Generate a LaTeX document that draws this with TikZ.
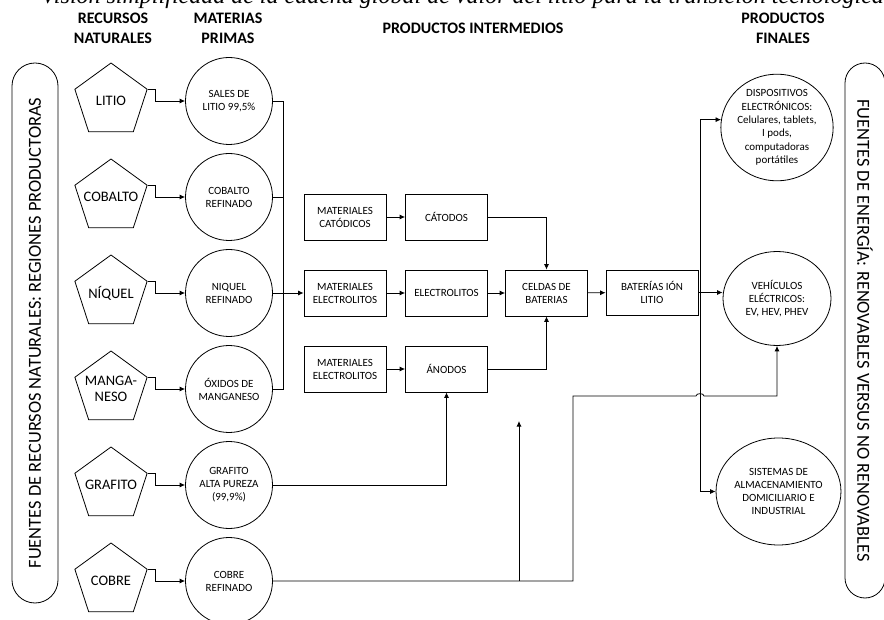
\documentclass[tikz,border=0pt]{standalone}
\usepackage{fontspec}
\setmainfont{Carlito}
\newfontfamily\titlefont{Liberation Serif}
\usetikzlibrary{arrows.meta,shapes.geometric}

\tikzset{
  recurso/.style={regular polygon, regular polygon sides=5, draw, minimum size=76pt, inner sep=0pt, align=center, font=\fontsize{14.5}{16}\selectfont},
  materia/.style={circle, draw, minimum size=87pt, inner sep=0pt, align=center, font=\fontsize{11}{13}\selectfont},
  caja/.style={rectangle, draw, minimum width=82pt, minimum height=46pt, inner sep=2pt, align=center, font=\fontsize{11}{13}\selectfont},
  producto/.style={ellipse, draw, inner sep=0pt, align=center, font=\fontsize{11}{13.3}\selectfont},
  encabezado/.style={align=center, inner sep=0pt, font=\bfseries\fontsize{16}{20}\selectfont},
  lateral/.style={draw, rounded corners=23pt, minimum height=46pt, inner sep=0pt, font=\fontsize{18.4}{20}\selectfont}
}

\begin{document}
\begin{tikzpicture}[x=1pt,y=-1pt,line width=0.8pt,>={Latex[length=5.5pt,width=5pt]}]
    \useasboundingbox (0,0) rectangle (884,620);
    \clip (0,0) rectangle (884,620);

    \node[anchor=base,inner sep=0pt,font=\titlefont\itshape\fontsize{24}{28}\selectfont] (titulo) at (462.5,4) {Visión simplificada de la cadena global de valor del litio para la transición tecnológica};

    \node[encabezado] (hrec) at (113,28.3) {RECURSOS\\NATURALES};
    \node[encabezado] (hmat) at (228,28.3) {MATERIAS\\PRIMAS};
    \node[encabezado] (hint) at (473,28) {PRODUCTOS INTERMEDIOS};
    \node[encabezado] (hfin) at (783,28.3) {PRODUCTOS\\FINALES};

    \node[lateral, rotate=90, minimum width=540pt] (fuentesrec) at (35,333) {FUENTES DE RECURSOS NATURALES: REGIONES PRODUCTORAS};
    \node[lateral, rotate=-90, minimum width=535pt, minimum height=40pt, rounded corners=20pt] (fuentesen) at (865,330.5) {FUENTES DE ENERGÍA: RENOVABLES VERSUS NO RENOVABLES};

    \node[recurso] (litio) at (111,101) {\makebox[0pt]{LITIO}};
    \node[recurso] (cobalto) at (111,197) {\makebox[0pt]{COBALTO}};
    \node[recurso] (niquel) at (111,293) {\makebox[0pt]{NÍQUEL}};
    \node[recurso] (mangan) at (111,389) {\makebox[0pt]{MANGA-}\\\makebox[0pt]{NESO}};
    \node[recurso] (grafito) at (111,485) {\makebox[0pt]{GRAFITO}};
    \node[recurso] (cobre) at (111,581) {\makebox[0pt]{COBRE}};

    \node[materia] (mlitio) at (229,101) {SALES DE\\LITIO 99,5\%};
    \node[materia] (mcobalto) at (229,197) {COBALTO\\REFINADO};
    \node[materia] (mniquel) at (229,293) {NIQUEL\\REFINADO};
    \node[materia] (mmangan) at (229,389) {ÓXIDOS DE\\MANGANESO};
    \node[materia] (mgrafito) at (229,485) {GRAFITO\\ALTA PUREZA\\(99,9\%)};
    \node[materia] (mcobre) at (229,581) {COBRE\\REFINADO};

    \node[caja] (matcat) at (345,217) {MATERIALES\\CATÓDICOS};
    \node[caja] (catodos) at (446.5,217) {CÁTODOS};
    \node[caja] (matele) at (345,293) {MATERIALES\\ELECTROLITOS};
    \node[caja] (electrolitos) at (446.5,293) {ELECTROLITOS};
    \node[caja] (celdas) at (546.5,293) {CELDAS DE\\BATERIAS};
    \node[caja] (matano) at (345,369) {MATERIALES\\ELECTROLITOS};
    \node[caja] (anodos) at (446.5,369) {ÁNODOS};
    \node[caja, minimum width=92pt, minimum height=45pt] (baterias) at (652,292.5) {BATERÍAS IÓN\\LITIO};

    \node[producto, minimum width=108pt, minimum height=101pt] (disp) at (777,127.5) {DISPOSITIVOS\\ELECTRÓNICOS:\\Celulares, tablets,\\I pods,\\computadoras\\portátiles};
    \node[producto, minimum width=108pt, minimum height=94pt] (veh) at (777,298.5) {VEHÍCULOS\\ELÉCTRICOS:\\EV, HEV, PHEV};
    \node[producto, minimum width=109pt, minimum height=107pt] (sist) at (778.5,491.5) {SISTEMAS DE\\ALMACENAMIENTO\\DOMICILIARIO E\\INDUSTRIAL};

    \coordinate (bus) at (283,293);
    \coordinate (distrib) at (700,292.5);
    \coordinate (cuA) at (573,396);
    \coordinate (saltoA) at (696,396);
    \coordinate (saltoB) at (704,396);
    \coordinate (ramaA) at (519,581);
    \coordinate (ramaB) at (519,421);

    \foreach \r/\m in {litio/mlitio,cobalto/mcobalto,niquel/mniquel,mangan/mmangan,grafito/mgrafito,cobre/mcobre}
        \draw[->] (\r.corner 5) -- ++(8,0) |- (\m.west);

    \draw (mlitio.east) -| (bus);
    \draw (mcobalto.east) -| (bus);
    \draw (mmangan.east) -| (bus);
    \draw[->] (mniquel.east) -- (matele.west);

    \draw[->] (matcat) -- (catodos);
    \draw[->] (matele) -- (electrolitos);
    \draw[->] (matano) -- (anodos);
    \draw[->] (electrolitos) -- (celdas);
    \draw[->] (catodos.east) -| (celdas.north);
    \draw[->] (anodos.east) -| (celdas.south);
    \draw[->] (mgrafito.east) -| (anodos.south);
    \draw[->] (celdas) -- (baterias);

    \draw (baterias.east) -- (distrib);
    \draw[->] (distrib) -- (veh.west |- distrib);
    \draw[->] (distrib) |- (disp.172);
    \draw[->] (distrib) |- (sist.west);

    \draw[->] (mcobre.east) -| (cuA) -- (saltoA) to[out=90,in=90] (saltoB) -| (veh.south);
    \draw[->] (ramaA) -- (ramaB);

\end{tikzpicture}
\end{document}
